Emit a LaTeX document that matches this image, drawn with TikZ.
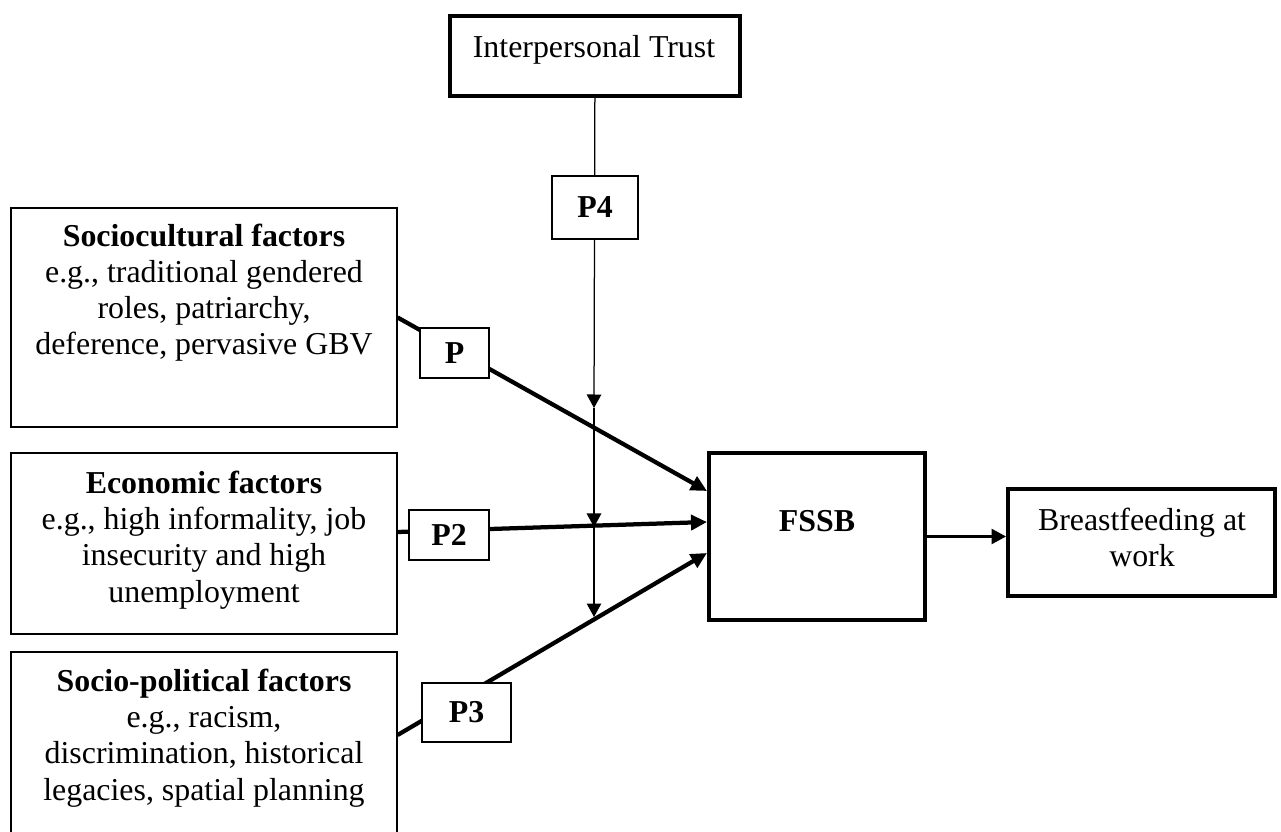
\documentclass[tikz,border=0pt]{standalone}
\usepackage{fontspec}
\setmainfont{Liberation Serif}
\usetikzlibrary{arrows.meta,calc}
\newcommand{\diagfont}{\fontsize{12.75}{14.5}\selectfont}

\begin{document}
\begin{tikzpicture}[x=0.4pt,y=-0.4pt,font=\diagfont,
    factorbox/.style={draw,line width=0.5pt,minimum width=154.4pt,inner sep=0pt},
    factortext/.style={align=center,anchor=base,inner sep=0pt},
    thickbox/.style={draw,line width=1.6pt,inner sep=0pt},
    propbox/.style={draw,fill=white,line width=0.5pt,inner sep=0pt,font=\diagfont\bfseries},
    mainarrow/.style={line width=1.7pt,-{Triangle[length=6.4pt,width=6pt]}},
    modarrow/.style={line width=0.5pt,-{Triangle[length=5.4pt,width=5.8pt]}}]
  \useasboundingbox (0,0) rectangle (1281,832);

  % boxes (text nodes sit on the baseline of their last line)
  \node[thickbox,minimum width=116pt,minimum height=32pt] (trust) at (595,56) {};
  \node[factortext] (trusttext) at (594,58) {Interpersonal Trust};
  \node[factorbox,minimum height=87.6pt] (socio) at (204,317.5) {};
  \node[factortext] (sociotext) at (204,355)
    {\textbf{Sociocultural factors}\\e.g., traditional gendered\\roles, patriarchy,\\deference, pervasive GBV};
  \node[factorbox,minimum height=72.4pt] (econ) at (204,543.5) {};
  \node[factortext] (econtext) at (204,602)
    {\textbf{Economic factors}\\e.g., high informality, job\\insecurity and high\\unemployment};
  \node[factorbox,minimum height=75.2pt] (polit) at (204,746) {};
  \node[factortext] (polittext) at (204,800)
    {\textbf{Socio-political factors}\\e.g., racism,\\discrimination, historical\\legacies, spatial planning};
  \node[thickbox,minimum width=86.4pt,minimum height=66.8pt] (fssb) at (817,536.5) {};
  \node[factortext,font=\diagfont\bfseries] (fssbtext) at (817,532) {FSSB};
  \node[thickbox,minimum width=106.8pt,minimum height=42.8pt] (work) at (1141.5,542.5) {};
  \node[factortext] (worktext) at (1142,567) {Breastfeeding at\\work};

  % points where the moderator meets the paths
  \coordinate (mod1) at (594,408);
  \coordinate (mod2) at (594,527);
  \coordinate (mod3) at (594,617);

  % paths
  \draw[mainarrow] (socio.east) -- ($(fssb.west)+(0,-45.5)$);
  \draw[mainarrow] ($(econ.east)+(0,-11.5)$) -- ($(fssb.west)+(0,-14.5)$);
  \draw[mainarrow] ($(polit.east)+(0,-11)$) -- ($(fssb.west)+(0,16.5)$);
  \draw[modarrow] (trust) -- (mod1);
  \draw[modarrow] (mod1) -- (mod2);
  \draw[modarrow] (mod2) -- (mod3);
  \draw[line width=1.1pt,-{Triangle[length=5.8pt,width=6pt]}] (fssb.east) -- (fssb.east -| work.west);

  % propositions
  \node[propbox,minimum width=27.6pt,minimum height=20pt] (p1) at (454.5,353) {P};
  \node[propbox,minimum width=32pt,minimum height=20pt] (p2) at (449,535) {P2};
  \node[propbox,minimum width=35.6pt,minimum height=23.6pt] (p3) at (466.5,712.5) {P3};
  \node[propbox,minimum width=34.4pt,minimum height=25.2pt] (p4) at (595,207.5) {P4};
\end{tikzpicture}
\end{document}
